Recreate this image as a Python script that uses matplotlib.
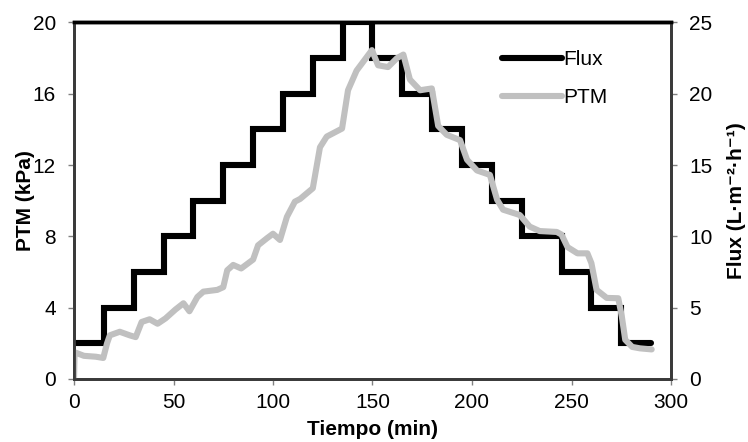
import matplotlib
matplotlib.use("Agg")
import matplotlib.pyplot as plt
import numpy as np

plt.rcParams['font.family'] = ['Liberation Sans', 'DejaVu Sans']

# Flux step function (L·m-2·h-1): interval start times and level
flux_edges = [0, 15, 30, 45, 60, 75, 90, 105, 120, 135, 150, 165, 180, 195,
              210, 225, 245, 260, 275, 290]
flux_levels = [2.5, 5, 7.5, 10, 12.5, 15, 17.5, 20, 22.5, 25,
               22.5, 20, 17.5, 15, 12.5, 10, 7.5, 5, 2.5]

# PTM (kPa) trace
ptm_time = [0, 0.3, 5, 11, 14.7, 16.6, 18, 23, 28, 31, 34, 38, 42, 46, 51, 55,
            58, 62, 65, 72, 75, 77, 80, 84, 90, 92.5, 97, 100, 103.5, 107, 111,
            113.6, 120, 123.6, 127, 134.7, 137.7, 142, 149.7, 152.8, 157.8,
            162.3, 165.5, 168.8, 173.9, 179.8, 183, 187.3, 194, 197.5, 202.5,
            209, 212.6, 215.6, 224, 229, 234, 242.6, 245, 248, 253, 258, 260,
            262.6, 267.7, 273.5, 275.3, 277, 280.5, 284.4, 290.3]
ptm_values = [0, 1.5, 1.3, 1.25, 1.18, 2.0, 2.45, 2.65, 2.45, 2.35, 3.2, 3.35,
              3.1, 3.4, 3.9, 4.25, 3.8, 4.6, 4.9, 5.0, 5.15, 6.1, 6.4, 6.2, 6.7,
              7.5, 7.9, 8.15, 7.8, 9.1, 9.95, 10.1, 10.7, 13.0, 13.6, 14.05,
              16.2, 17.3, 18.45, 17.6, 17.5, 18.0, 18.2, 16.8, 16.2, 16.3, 14.2,
              13.7, 13.4, 12.3, 11.7, 11.45, 10.06, 9.5, 9.2, 8.55, 8.3, 8.25,
              8.1, 7.4, 7.05, 7.05, 6.5, 5.0, 4.55, 4.53, 3.5, 2.2, 1.8, 1.72,
              1.66]

x_ticks = [0, 50, 100, 150, 200, 250, 300]
ptm_ticks = [0, 4, 8, 12, 16, 20]
flux_ticks = [0, 5, 10, 15, 20, 25]

fig = plt.figure(figsize=(7.48, 4.42), dpi=100)
ax = fig.add_axes([74/748, 1-379/442, 597/748, (379-22.5)/442])
ax2 = ax.twinx()
ax.set_zorder(ax2.get_zorder() + 1)
ax.patch.set_visible(False)

fx = flux_edges
fy = flux_levels + [flux_levels[-1]]
l1, = ax2.plot(fx, fy, drawstyle='steps-post', color='black', lw=4.4,
               solid_joinstyle='miter', solid_capstyle='round', label='Flux')
l2, = ax.plot(ptm_time, ptm_values, color='#c0c0c0', lw=4.4,
              solid_joinstyle='round', solid_capstyle='round', label='PTM')

ax.set_xlim(0, 300)
ax.set_ylim(0, 20)
ax2.set_ylim(0, 25)
ax.set_xticks(x_ticks)
ax.set_yticks(ptm_ticks)
ax2.set_yticks(flux_ticks)

fs = 15
for a in (ax, ax2):
    for s in a.spines.values():
        s.set_color('#3a3a3a')
        s.set_linewidth(2.0)
    a.spines['top'].set_color('black')
    a.spines['top'].set_linewidth(2.5)
ax.tick_params(axis='both', direction='out', length=4, width=1, color='#808080',
               labelsize=fs)
ax.tick_params(axis='y', pad=9)
ax.tick_params(axis='x', pad=6)
ax2.tick_params(axis='y', direction='out', length=4, width=1, color='#808080',
                labelsize=fs, pad=9)

ax.set_xlabel('Tiempo (min)', fontsize=fs, fontweight='bold')
ax.set_ylabel('PTM (kPa)', fontsize=fs, fontweight='bold')
ax2.set_ylabel('Flux (L·m⁻²·h⁻¹)', fontsize=fs, fontweight='bold')
ax.xaxis.set_label_coords(0.5, -0.115)
ax.yaxis.set_label_coords(-0.065, 0.5)
ax2.yaxis.set_label_coords(1.093, 0.5)

leg = ax.legend(handles=[l1, l2], loc='upper left', bbox_to_anchor=(0.717, 0.922),
                frameon=False, fontsize=fs, handlelength=2.9, handletextpad=0.05,
                labelspacing=0.9, borderaxespad=0, borderpad=0)

fig.savefig('out.png', dpi=100)
